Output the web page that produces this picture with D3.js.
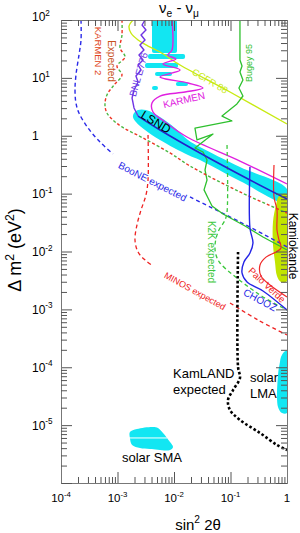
<!DOCTYPE html>
<html><head><meta charset="utf-8">
<script src="https://cdn.jsdelivr.net/npm/d3@7"></script>
<style>body{margin:0;background:#fff}svg{display:block}text{font-family:"Liberation Sans",Arial,Helvetica,sans-serif}</style>
</head><body><svg id="c" width="300" height="533"></svg>
<script>
// ---- axis values ----
const xMajor = [1e-4, 1e-3, 1e-2, 1e-1, 1];
const xTickLabels = [["10","-4"],["10","-3"],["10","-2"],["10","-1"],["1",""]];
const yMajor = [1e2, 1e1, 1, 1e-1, 1e-2, 1e-3, 1e-4, 1e-5];
const yTickLabels = [["10","2"],["10","1"],["1",""],["10","-1"],["10","-2"],["10","-3"],["10","-4"],["10","-5"]];

// ---- curves: [sin^2 2theta, delta m^2] ----
const booneA = [[2.26e-4,100],[2.26e-4,45.1],[2.08e-4,24.8],[1.84e-4,11.2],[1.77e-4,6.17],[1.84e-4,3.68],[2.08e-4,2.47],[3.01e-4,1.36],[4.9e-4,0.78],[8.3e-4,0.484]];
const booneB = [[1.92e-2,0.0875],[0.147,0.0324],[1,0.012]];
const lsndBand = [[1.96e-3,2.47],[2.31e-3,2.79],[3.19e-3,2.79],[5.65e-3,2.11],[1.04e-2,1.36],[1.77e-2,0.845],[2.88e-2,0.639],[0.147,0.288],[1,0.12],
                  [1,0.0688],[0.147,0.165],[2.88e-2,0.381],[1.77e-2,0.465],[5.65e-3,0.845],[3.07e-3,1.26],[2.12e-3,1.73],[1.88e-3,2.11]];
// [s1, s2, m1, m2]
const lsndHigh = [[4.08e-3,1.13e-2,26.9,100],[3.47e-3,1.57e-2,21.2,25.8],[3.07e-3,1.18e-2,14.8,18.1],[4.61e-3,9.22e-3,10.8,12.6],[1.08e-2,1.77e-2,7.24,8.49],[4.08e-3,5.21e-3,6.17,7.24]];
const bnlUpper = [[3.07e-3,100],[2.72e-3,82],[3.19e-3,67.2],[2.61e-3,55.1],[3.07e-3,45.1],[2.5e-3,37],[2.94e-3,30.3],[2.4e-3,24.8],[2.83e-3,20.4],[2.31e-3,16.7],[2.61e-3,13.7],[2.12e-3,10.8],[2.31e-3,8.49],[1.96e-3,6.17],[1.81e-3,4.49],[1.96e-3,3.02],[2.31e-3,2.19]];
const bnlLower = [[2.31e-3,2.19],[5.65e-3,1.26],[2.88e-2,0.504],[0.221,0.172],[1,0.0807]];
const karmen = [[9.22e-3,100],[9.22e-3,30.3],[7.83e-3,24.8],[1.08e-2,21.2],[6.39e-3,17.4],[1.28e-2,13.7],[5.65e-3,10.4],[1.77e-2,8.15],[3.26e-2,6.68],[1.57e-2,5.7],[5.65e-3,4.86],[4.08e-3,3.68],[4.25e-3,2.57],[6.93e-3,1.73],[1.7e-2,0.951],[0.147,0.366],[1,0.147]];
const ccfr = [[1.88e-3,100],[1.6e-3,78.7],[1.73e-3,59.6],[2.31e-3,45.1],[3.47e-3,35.5],[5.65e-3,28],[1.28e-2,16.7],[9.8e-2,5.7],[1,1.6]];
const bugey = [[0.147,100],[0.147,20.4],[0.16,16],[0.147,12.6],[0.166,9.19],[0.141,6.68],[0.166,4.86],[0.13,3.54],[7.08e-2,2.19],[0.106,1.8],[2.35e-2,1.36],[2.55e-2,0.845],[4.9e-2,1.07],[2.35e-2,0.614],[3.26e-2,0.524],[3.84e-2,0.381],[3.54e-2,0.256],[3.84e-2,0.172],[3.4e-2,0.116],[4.0e-2,0.084],[4.71e-2,0.0611],[7.37e-2,0.0445],[0.181,0.0276],[0.376,0.0178],[1,0.0106]];
const k2k = [[8.68e-2,0.692],[8.68e-2,0.0481],[8.0e-2,0.035],[6.01e-2,0.0217],[5.32e-2,0.0129],[5.54e-2,0.0087],[6.52e-2,0.00633],[0.111,0.00393],[0.221,0.00234],[0.376,0.00164],[1,0.000975]];
const karmen2 = [[1.2e-3,100],[1.2e-3,55.1],[1.11e-3,32.8],[1.36e-3,22.9],[9.8e-4,16],[1.2e-3,11.2],[8.67e-4,7.53],[6.5e-4,5.06],[6.0e-4,3.4],[6.5e-4,2.47],[8.3e-4,1.87],[1.2e-3,1.42],[2.83e-3,0.914],[8.5e-3,0.504],[1.92e-2,0.3],[0.147,0.107],[1,0.0462]];
const minosA = [[3.47e-3,1.03],[3.47e-3,0.172],[3.19e-3,0.0947],[2.61e-3,0.0521],[2.21e-3,0.0287],[2.04e-3,0.0158],[2.31e-3,0.0098],[3.07e-3,0.00713],[4.25e-3,0.00562]];
const minosB = [[9.8e-2,0.00129],[0.307,0.000655],[1,0.000361]];
const chooz = [[0.221,0.288],[0.221,0.0255],[0.25,0.014],[0.221,0.0094],[0.173,0.00659],[0.16,0.00425],[0.196,0.00297],[0.376,0.00208],[1,0.000975]];
const paloVerde = [[0.589,0.313],[0.589,0.0875],[0.665,0.0521],[0.665,0.0235],[0.722,0.0158],[0.783,0.0115],[0.639,0.0098],[0.425,0.008],[0.333,0.00585],[0.347,0.00377],[0.5,0.00264],[1,0.00164]];
const kamiokande = [[0.722,0.091],[1,0.0986],[1,0.00309],[0.783,0.00297],[0.665,0.00377],[0.613,0.00659],[0.565,0.0129],[0.565,0.0324],[0.639,0.0635]];
const kamland = [[0.136,0.0098],[0.136,0.000101],[0.147,6.52e-5],[0.111,4.04e-5],[9.04e-2,2.72e-5],[9.8e-2,1.82e-5],[0.147,1.23e-5],[0.333,7.31e-6],[0.665,4.54e-6],[1,3.72e-6]];
const solarSMA = [[1.66e-3,7.6e-6],[2.21e-3,8.57e-6],[4.25e-3,9.29e-6],[5.21e-3,8.92e-6],[6.39e-3,7.31e-6],[8.5e-3,5.1e-6],[9.6e-3,4.19e-6],[8.5e-3,3.72e-6],[3.76e-3,3.87e-6],[2.5e-3,4.03e-6],[1.81e-3,4.54e-6],[1.66e-3,5.99e-6]];
const smaSplit = [[1.5e-3,6.0e-6],[7.6e-3,6.0e-6]];
const solarLMA = [[0.783,1.5e-4],[0.885,1.83e-4],[1,1.91e-4],[1,1.62e-5],[0.816,1.62e-5],[0.693,2.06e-5],[0.693,7.34e-5],[0.751,1.23e-4]];

// ---- setup ----
const svg = d3.select("#c");
const x = d3.scaleLog().domain([1e-4, 1]).range([61, 287]);
const y = d3.scaleLog().domain([1e-6, 100]).range([483, 20]);
const smooth = d3.line().x(d => x(d[0])).y(d => y(d[1])).curve(d3.curveCatmullRom.alpha(0.5));
const straight = d3.line().x(d => x(d[0])).y(d => y(d[1]));
const closed = d3.line().x(d => x(d[0])).y(d => y(d[1])).curve(d3.curveCatmullRomClosed.alpha(0.5));

svg.append("defs").append("clipPath").attr("id","clip").append("rect")
  .attr("x", 61).attr("y", 20).attr("width", 226).attr("height", 463);
const plot = svg.append("g").attr("clip-path","url(#clip)");

const CYAN = "#12e6f2";
// fills
plot.append("path").attr("d", closed(lsndBand)).attr("fill", CYAN);
plot.selectAll(".hi").data(lsndHigh).enter().append("rect")
  .attr("x", d => x(d[0])).attr("width", d => x(d[1]) - x(d[0]))
  .attr("y", d => y(d[3])).attr("height", d => y(d[2]) - y(d[3]))
  .attr("rx", 2).attr("fill", CYAN);
plot.append("path").attr("d", closed(kamiokande)).attr("fill", "#c2e400");
plot.append("path").attr("d", closed(solarSMA)).attr("fill", CYAN);
plot.append("path").attr("d", straight(smaSplit)).attr("stroke", "#fff").attr("stroke-width", 1);
plot.append("path").attr("d", closed(solarLMA)).attr("fill", CYAN);

function curve(data, color, w, dash, gen) {
  const p = plot.append("path").attr("d", (gen || smooth)(data)).attr("fill", "none")
    .attr("stroke", color).attr("stroke-width", w).attr("stroke-linejoin","round");
  if (dash) p.attr("stroke-dasharray", dash);
  return p;
}
curve(booneA, "#2a2ae8", 1.4, "4 3");
curve(booneB, "#2a2ae8", 1.4, "4 3");
curve(ccfr, "#c8ea12", 1.4);
curve(karmen, "#e020e0", 1.4);
curve(bugey, "#2ec02e", 1.3, null, straight);
curve(k2k, "#3cc83c", 1.3, "4 3");
curve(karmen2, "#4cb844", 1.4, "3 7").attr("stroke-dashoffset", -5);
curve(karmen2, "#ee3322", 1.4, "3 7");
curve(minosA, "#ee2222", 1.3, "4 3");
curve(minosB, "#ee2222", 1.3, "4 3");
curve(paloVerde, "#f02828", 1.2);
curve(chooz, "#2424e6", 1.4);
curve(bnlUpper, "#7034e4", 1.4, null, straight);
curve(bnlLower, "#2222cc", 1.6);
curve(kamland, "#000", 2.6, "2.6 2.2");

// ---- frame & ticks ----
function minors(lo, hi) { const r = []; for (let e = lo; e < hi; e++) for (let k = 2; k < 10; k++) r.push(k * Math.pow(10, e)); return r; }
const xMinor = minors(-4, 0), yMinor = minors(-6, 2);
const yAll = [1e2,1e1,1,1e-1,1e-2,1e-3,1e-4,1e-5,1e-6];
const TK = "#555";
function ax(gen, tr, vals, len) {
  const g = svg.append("g").attr("transform", tr)
    .call(gen.tickValues(vals).tickSizeInner(-len).tickSizeOuter(0).tickFormat(""));
  g.selectAll("line").attr("stroke", TK);
  g.select(".domain").attr("stroke", "#777");
}
ax(d3.axisBottom(x), "translate(0,483)", xMajor, 11);
ax(d3.axisBottom(x), "translate(0,483)", xMinor, 6);
ax(d3.axisTop(x), "translate(0,20)", xMajor, 11);
ax(d3.axisTop(x), "translate(0,20)", xMinor, 6);
ax(d3.axisLeft(y), "translate(61,0)", yAll, 11);
ax(d3.axisLeft(y), "translate(61,0)", yMinor, 6);
ax(d3.axisRight(y), "translate(287,0)", yAll, 11);
ax(d3.axisRight(y), "translate(287,0)", yMinor, 6);

// ---- text helpers ----
function rich(t, parts, size, supRaise) {
  let cur = 0;
  parts.forEach(([s, k]) => {
    if (!s) return;
    const target = k === "sup" ? -size * (supRaise || 0.45) : k === "sub" ? size * 0.28 : 0;
    const ts = t.append("tspan").attr("dy", target - cur).text(s);
    if (k) ts.attr("font-size", size * 0.68);
    cur = target;
  });
}
xMajor.forEach((v, i) => {
  const t = svg.append("text").attr("x", x(v)).attr("y", 502).attr("text-anchor","middle").attr("font-size", 11.5).attr("fill","#000");
  rich(t, [[xTickLabels[i][0]], [xTickLabels[i][1], "sup"]], 11.5);
});
yMajor.forEach((v, i) => {
  const t = svg.append("text").attr("x", 32).attr("y", v === 100 ? 21 : y(v) + 4.5).attr("font-size", 12).attr("fill","#000");
  rich(t, [[yTickLabels[i][0]], [yTickLabels[i][1], "sup"]], 12);
});
// title & axis titles
rich(svg.append("text").attr("x", 179).attr("y", 13).attr("text-anchor","middle").attr("font-size",15),
  [["ν"],["e","sub"],[" - "],["ν"],["μ","sub"]], 15);
rich(svg.append("text").attr("transform","translate(21,250) rotate(-90)").attr("text-anchor","middle").attr("font-size",18),
  [["Δ m"],["2","sup"],[" (eV"],["2","sup"],[")"]], 18, 0.38);
rich(svg.append("text").attr("x", 198).attr("y", 530).attr("text-anchor","middle").attr("font-size",15),
  [["sin"],["2","sup"],[" 2θ"]], 15);

function lab(s, cx, cy, ang, size, color) {
  svg.append("text").attr("transform", `translate(${cx},${cy}) rotate(${ang})`)
    .attr("text-anchor","middle").attr("dy","0.35em").attr("font-size", size).attr("fill", color).text(s);
}
lab("KARMEN 2", 98.5, 51, 90, 9.5, "#e04420");
lab("Expected", 111.5, 61, 90, 10, "#c8521e");
lab("BNL E776", 138.5, 74.5, -74, 10, "#6a3ae6");
lab("Bugey 95", 248.5, 63, -90, 9, "#2ec02e");
lab("CCFR 88", 210, 81, 31, 9.5, "#c8ea12");
lab("KARMEN", 184, 100, -13, 10, "#e020e0");
lab("LSND", 156, 122, 31, 12, "#000");
lab("BooNE expected", 152.5, 181.5, 27, 10, "#2a2ae8");
lab("K2K expected", 211.5, 252, 90, 10, "#3cc83c");
lab("MINOS expected", 195, 291, 29, 9, "#ee2222");
lab("Palo Verde", 267, 285, 43, 9.5, "#ee2222");
lab("CHOOZ", 260, 300, 28, 10, "#2424e6");
lab("Kamiokande", 293.5, 246, 90, 12, "#000");

function htext(s, px, py) {
  svg.append("text").attr("x", px).attr("y", py).attr("font-size", 13).attr("fill","#000").text(s);
}
htext("KamLAND", 173, 378);
htext("expected", 173, 394);
htext("solar", 250, 382);
htext("LMA", 250, 398);
htext("solar SMA", 122, 462);
</script>
</body></html>
